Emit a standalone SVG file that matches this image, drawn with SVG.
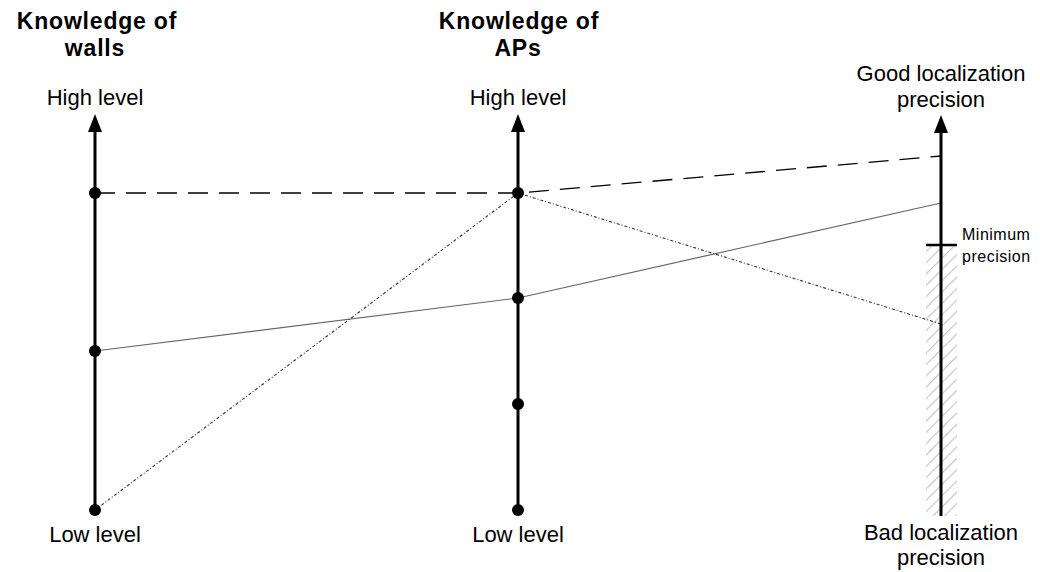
<svg xmlns="http://www.w3.org/2000/svg" width="1040" height="572" viewBox="0 0 1040 572">
  <defs>
    <style>
      .title { font-family: "Liberation Sans", Arial, sans-serif; font-size: 23px; font-weight: bold; fill: #000; text-anchor: middle; letter-spacing: 0.8px; }
      .lbl { font-family: "Liberation Sans", Arial, sans-serif; font-size: 22px; fill: #000; text-anchor: middle; }
      .small { font-family: "Liberation Sans", Arial, sans-serif; font-size: 16px; fill: #000; letter-spacing: 0.5px; }
      .axis { stroke: #000; stroke-width: 3; fill: none; }
      .dot { fill: #000; }
      .dashed { stroke: #000; stroke-width: 1.3; fill: none; stroke-dasharray: 20 11; }
      .solid { stroke: #666; stroke-width: 1.2; fill: none; }
      .dotted { stroke: #333; stroke-width: 1.1; fill: none; stroke-dasharray: 3 2 1 2; }
    </style>
    <marker id="arrow" viewBox="0 0 14 18" refX="7" refY="0" markerWidth="14" markerHeight="18" markerUnits="userSpaceOnUse" orient="auto-start-reverse">
      <path d="M0,0 L14,0 L7,18 Z" fill="#000"/>
    </marker>
    <pattern id="hatch" patternUnits="userSpaceOnUse" width="8" height="8" patternTransform="rotate(45)">
      <line x1="0" y1="0" x2="0" y2="8" stroke="#c8c8c8" stroke-width="2.5"/>
    </pattern>
  </defs>
  <rect width="1040" height="572" fill="#fff"/>

  <g id="hatched-zone">
    <rect x="926" y="245" width="31" height="271" fill="url(#hatch)"/>
  </g>

  <g id="connectors">
    <polyline class="dashed" points="95,193 518,193 941,156"/>
    <polyline class="solid" points="95,351 518,298 941,203"/>
    <polyline class="dotted" points="95,510 518,193 941,324"/>
  </g>

  <g id="axis-walls">
    <line class="axis" x1="95" y1="510" x2="95" y2="131"/>
    <path d="M88,132 L102,132 L95,114 Z" fill="#000"/>
    <circle class="dot" cx="95" cy="193" r="6"/>
    <circle class="dot" cx="95" cy="351" r="6"/>
    <circle class="dot" cx="95" cy="510" r="6"/>
    <text class="title" x="97" y="29">Knowledge of</text>
    <text class="title" x="95" y="56">walls</text>
    <text class="lbl" x="95" y="105">High level</text>
    <text class="lbl" x="95" y="542">Low level</text>
  </g>

  <g id="axis-aps">
    <line class="axis" x1="518" y1="510" x2="518" y2="131"/>
    <path d="M511,132 L525,132 L518,114 Z" fill="#000"/>
    <circle class="dot" cx="518" cy="193" r="6"/>
    <circle class="dot" cx="518" cy="298" r="6"/>
    <circle class="dot" cx="518" cy="404" r="6"/>
    <circle class="dot" cx="518" cy="510" r="6"/>
    <text class="title" x="519" y="29">Knowledge of</text>
    <text class="title" x="518" y="56">APs</text>
    <text class="lbl" x="518" y="105">High level</text>
    <text class="lbl" x="518" y="542">Low level</text>
  </g>

  <g id="axis-precision">
    <line class="axis" x1="941" y1="516" x2="941" y2="132"/>
    <path d="M934,133 L948,133 L941,115 Z" fill="#000"/>
    <line x1="926" y1="245" x2="957" y2="245" stroke="#000" stroke-width="2.5"/>
    <text class="lbl" x="941" y="81">Good localization</text>
    <text class="lbl" x="941" y="107">precision</text>
    <text class="lbl" x="941" y="540">Bad localization</text>
    <text class="lbl" x="941" y="565">precision</text>
    <text class="small" x="962" y="240">Minimum</text>
    <text class="small" x="962" y="262">precision</text>
  </g>
</svg>
